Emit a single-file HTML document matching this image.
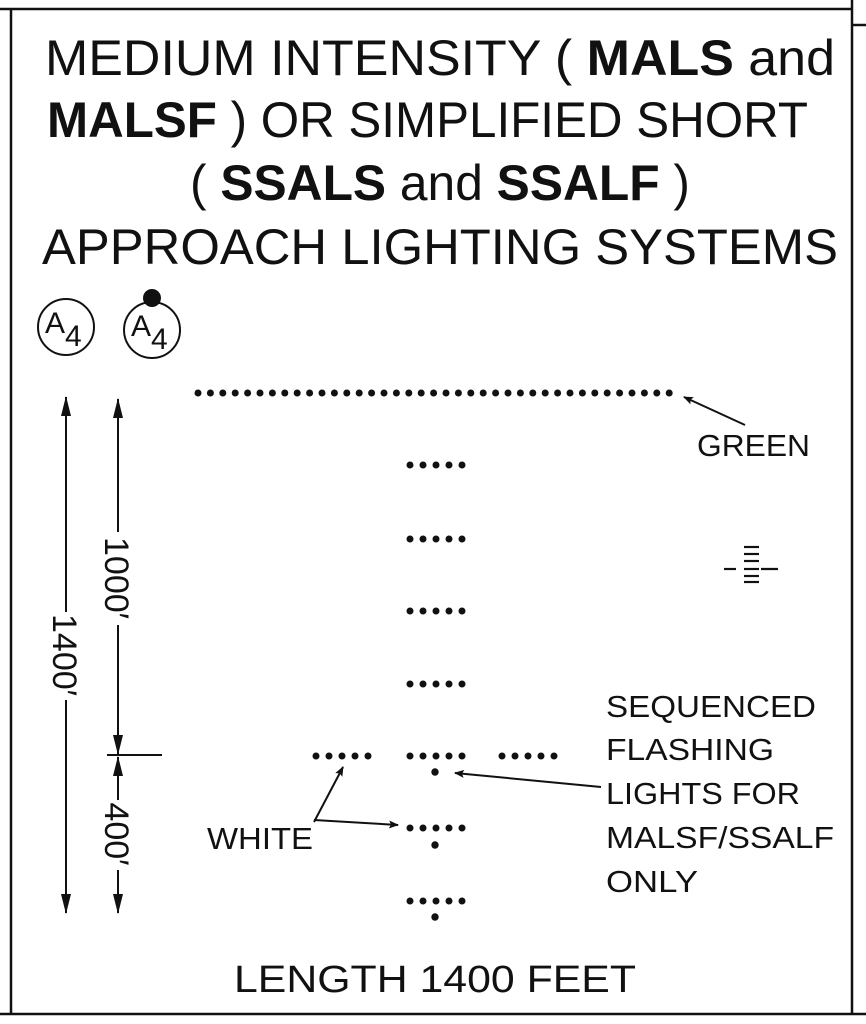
<!DOCTYPE html>
<html><head><meta charset="utf-8"><style>html,body{margin:0;padding:0;background:#fff}svg{display:block}</style></head><body>
<svg width="866" height="1024" viewBox="0 0 866 1024" xmlns="http://www.w3.org/2000/svg" font-family="Liberation Sans, sans-serif" fill="#111">
<defs>
<marker id="ah" markerWidth="10" markerHeight="8" refX="9" refY="4" orient="auto" markerUnits="userSpaceOnUse"><path d="M0,0 L10,4 L0,8 L2,4z" fill="#111"/></marker>
<marker id="da" markerWidth="20" markerHeight="10" refX="19" refY="5" orient="auto" markerUnits="userSpaceOnUse"><path d="M0,0 L20,5 L0,10z" fill="#111"/></marker>
</defs>
<g stroke="#111" stroke-width="2.5" fill="none">
<line x1="0" y1="9" x2="853" y2="9"/>
<line x1="11" y1="9" x2="11" y2="1014"/>
<line x1="0" y1="1014" x2="866" y2="1014"/>
<line x1="852" y1="0" x2="852" y2="1014"/>
<line x1="852" y1="25" x2="866" y2="25"/>
</g>
<g font-size="50">
<text x="45" y="75" textLength="790" lengthAdjust="spacingAndGlyphs">MEDIUM INTENSITY ( <tspan font-weight="bold">MALS</tspan> and</text>
<text x="47" y="137" textLength="761" lengthAdjust="spacingAndGlyphs"><tspan font-weight="bold">MALSF</tspan> ) OR SIMPLIFIED SHORT</text>
<text x="190" y="200" textLength="500" lengthAdjust="spacingAndGlyphs">( <tspan font-weight="bold">SSALS</tspan> and <tspan font-weight="bold">SSALF</tspan> )</text>
<text x="42" y="264" textLength="796" lengthAdjust="spacingAndGlyphs">APPROACH LIGHTING SYSTEMS</text>
</g>
<g stroke="#111" stroke-width="2" fill="none">
<circle cx="66" cy="327" r="28"/>
<circle cx="152" cy="330" r="28"/>
</g>
<circle cx="152" cy="298" r="9"/>
<text x="45" y="333" font-size="30">A</text><text x="65" y="346" font-size="30">4</text>
<text x="131" y="336" font-size="30">A</text><text x="151" y="349" font-size="30">4</text>
<g stroke="#111" stroke-width="2" fill="none">
<line x1="66" y1="612" x2="66" y2="397" marker-end="url(#da)"/>
<line x1="66" y1="700" x2="66" y2="913" marker-end="url(#da)"/>
<line x1="118" y1="532" x2="118" y2="399" marker-end="url(#da)"/>
<line x1="118" y1="625" x2="118" y2="754" marker-end="url(#da)"/>
<line x1="118" y1="800" x2="118" y2="757" marker-end="url(#da)"/>
<line x1="118" y1="870" x2="118" y2="913" marker-end="url(#da)"/>
<line x1="107" y1="755" x2="162" y2="755"/>
</g>
<g font-size="34">
<text transform="translate(114,578) rotate(90)" text-anchor="middle" dominant-baseline="middle">1000′</text>
<text transform="translate(62,655) rotate(90)" text-anchor="middle" dominant-baseline="middle">1400′</text>
<text transform="translate(114,834) rotate(90)" text-anchor="middle" dominant-baseline="middle">400′</text>
</g>
<g fill="#111">
<g transform="translate(198,393)">
<circle cx="0" r="3.5"/><circle cx="12.4" r="3.5"/><circle cx="24.8" r="3.5"/><circle cx="37.2" r="3.5"/><circle cx="49.6" r="3.5"/><circle cx="62" r="3.5"/><circle cx="74.4" r="3.5"/><circle cx="86.8" r="3.5"/><circle cx="99.2" r="3.5"/><circle cx="111.6" r="3.5"/><circle cx="124" r="3.5"/><circle cx="136.4" r="3.5"/><circle cx="148.8" r="3.5"/><circle cx="161.2" r="3.5"/><circle cx="173.6" r="3.5"/><circle cx="186" r="3.5"/><circle cx="198.4" r="3.5"/><circle cx="210.8" r="3.5"/><circle cx="223.2" r="3.5"/><circle cx="235.6" r="3.5"/><circle cx="248" r="3.5"/><circle cx="260.4" r="3.5"/><circle cx="272.8" r="3.5"/><circle cx="285.2" r="3.5"/><circle cx="297.6" r="3.5"/><circle cx="310" r="3.5"/><circle cx="322.4" r="3.5"/><circle cx="334.8" r="3.5"/><circle cx="347.2" r="3.5"/><circle cx="359.6" r="3.5"/><circle cx="372" r="3.5"/><circle cx="384.4" r="3.5"/><circle cx="396.8" r="3.5"/><circle cx="409.2" r="3.5"/><circle cx="421.6" r="3.5"/><circle cx="434" r="3.5"/><circle cx="446.4" r="3.5"/><circle cx="458.8" r="3.5"/><circle cx="471.2" r="3.5"/>
</g>
<defs><g id="b5"><circle cx="0" r="3.5"/><circle cx="13" r="3.5"/><circle cx="26" r="3.5"/><circle cx="39" r="3.5"/><circle cx="52" r="3.5"/></g></defs>
<use href="#b5" x="410" y="465"/>
<use href="#b5" x="410" y="539"/>
<use href="#b5" x="410" y="611"/>
<use href="#b5" x="410" y="684"/>
<use href="#b5" x="410" y="756"/>
<use href="#b5" x="316" y="756"/>
<use href="#b5" x="502" y="756"/>
<use href="#b5" x="410" y="828"/>
<use href="#b5" x="410" y="901"/>
<circle cx="435" cy="772" r="3.7"/>
<circle cx="435" cy="845" r="3.7"/>
<circle cx="435" cy="917" r="3.7"/>
</g>
<g stroke="#111" stroke-width="2" fill="none">
<line x1="745" y1="425" x2="684" y2="397" marker-end="url(#ah)"/>
<line x1="601" y1="787" x2="455" y2="773" marker-end="url(#ah)"/>
<polyline points="314,822 343,767" marker-end="url(#ah)"/>
<line x1="314" y1="820" x2="398" y2="825" marker-end="url(#ah)"/>
</g>
<g stroke="#111" stroke-width="2.2">
<line x1="744" y1="547" x2="759" y2="547"/>
<line x1="744" y1="554" x2="759" y2="554"/>
<line x1="744" y1="561" x2="759" y2="561"/>
<line x1="724" y1="569" x2="736" y2="569"/>
<line x1="744" y1="569" x2="759" y2="569"/>
<line x1="761" y1="569" x2="778" y2="569"/>
<line x1="744" y1="576" x2="759" y2="576"/>
<line x1="744" y1="582" x2="759" y2="582"/>
</g>
<g font-size="31">
<text x="697" y="456" textLength="113" lengthAdjust="spacingAndGlyphs">GREEN</text>
<text x="606" y="717" textLength="210" lengthAdjust="spacingAndGlyphs">SEQUENCED</text>
<text x="606" y="760" textLength="168" lengthAdjust="spacingAndGlyphs">FLASHING</text>
<text x="606" y="804" textLength="194" lengthAdjust="spacingAndGlyphs">LIGHTS FOR</text>
<text x="606" y="848" textLength="228" lengthAdjust="spacingAndGlyphs">MALSF/SSALF</text>
<text x="606" y="892" textLength="92" lengthAdjust="spacingAndGlyphs">ONLY</text>
<text x="207" y="849" textLength="106" lengthAdjust="spacingAndGlyphs">WHITE</text>
</g>
<text x="234" y="992" font-size="38" textLength="402" lengthAdjust="spacingAndGlyphs">LENGTH 1400 FEET</text>
</svg>
</body></html>
